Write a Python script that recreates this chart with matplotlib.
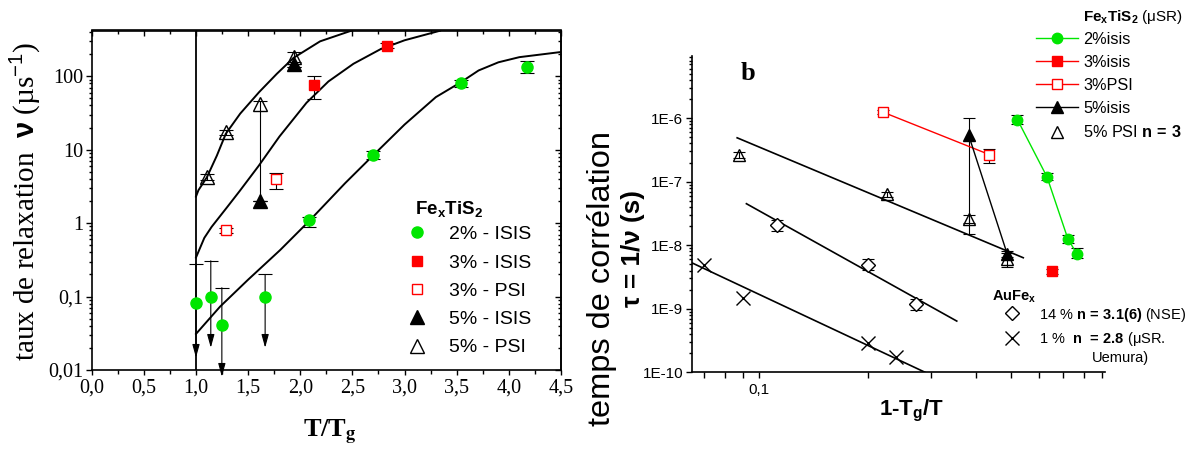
import numpy as np
import matplotlib
matplotlib.use("Agg")
import matplotlib.pyplot as plt
from matplotlib.ticker import MultipleLocator, FixedLocator, FuncFormatter, NullFormatter, LogLocator

plt.rcParams['font.family'] = ['Liberation Sans', 'DejaVu Sans']
plt.rcParams['mathtext.fontset'] = 'custom'
plt.rcParams['mathtext.rm'] = 'Liberation Sans'
plt.rcParams['mathtext.bf'] = 'Liberation Sans:bold'
plt.rcParams['mathtext.it'] = 'Liberation Sans:italic'

GREEN = '#00e600'
RED = '#ff0000'
SERIF = 'Liberation Serif'

# ---- panel a : relaxation rate nu vs T/Tg ----
# 2% ISIS, measured points
t2 = [2.08, 2.70, 3.54, 4.17]
nu2 = [1.09, 8.4, 81, 135]
nu2_lo = [0.89, 7.5, 72, 110]
nu2_hi = [1.2, 9.5, 90, 160]
# 2% ISIS, upper limits (point, cap of the bar, tip of the arrow)
t2_lim = [1.0, 1.142, 1.248, 1.663]
nu2_lim = [0.081, 0.1, 0.041, 0.1]
nu2_cap = [0.28, 0.307, 0.132, 0.2]
nu2_tip = [0.0147, 0.0201, 0.0081, 0.0201]

t3_isis = [2.127, 2.83]
nu3_isis = [75, 261]
nu3_isis_lo = [49, 240]
nu3_isis_hi = [100, 285]

t3_psi = [1.283, 1.769]
nu3_psi = [0.8, 4.0]
nu3_psi_lo = [0.74, 2.94]
nu3_psi_hi = [0.87, 4.8]

t5_isis = [1.61, 1.936]
nu5_isis = [2.0, 147]
nu5_isis_lo = [2.0, 135]
nu5_isis_hi = [2.0, 158]

t5_psi = [1.104, 1.286, 1.61, 1.936]
nu5_psi = [4.25, 17.3, 42, 185]
nu5_psi_lo = [3.9, 15.8, 2.0, 133]
nu5_psi_hi = [4.6, 18.8, 46, 212]

# fitted curves
fit5_t = [1.0, 1.023, 1.104, 1.2, 1.286, 1.424, 1.606, 1.775, 1.935, 2.19, 2.495]
fit5_nu = [2.3, 2.8, 4.2, 8.3, 16.5, 31, 61, 108, 178, 299, 420]
fit3_t = [1.0, 1.08, 1.15, 1.3, 1.42, 1.6, 1.8, 2.06, 2.27, 2.51, 2.77, 3.0, 3.34]
fit3_nu = [0.34, 0.63, 0.89, 1.66, 2.75, 6.0, 15.1, 43.6, 85, 148, 234, 309, 417]
fit2_t = [1.0, 1.231, 1.5, 1.807, 2.08, 2.43, 2.7, 3.0, 3.3, 3.54, 3.71, 3.9, 4.1, 4.5]
fit2_nu = [0.031, 0.073, 0.17, 0.43, 1.05, 3.5, 8.4, 22, 52, 83, 120, 155, 182, 214]
t_glass = 1.0

# ---- panel b : correlation time tau vs 1-Tg/T ----
r2_x = [0.522, 0.631, 0.721, 0.764]
r2_tau = [9.5e-7, 1.19e-7, 1.27e-8, 7.3e-9]
r2_lo = [8.0e-7, 1.05e-7, 1.1e-8, 6.2e-9]
r2_hi = [1.1e-6, 1.35e-7, 1.45e-8, 8.9e-9]

r3i_x = [0.651]
r3i_tau = [3.9e-9]
r3i_lo = [3.5e-9]
r3i_hi = [4.3e-9]

r3p_x = [0.22, 0.436]
r3p_tau = [1.25e-6, 2.67e-7]
r3p_lo = [1.15e-6, 2.0e-7]
r3p_hi = [1.35e-6, 3.3e-7]

r5i_x = [0.382, 0.489]
r5i_tau = [5.4e-7, 7.3e-9]
r5i_lo = [1.5e-8, 6.6e-9]
r5i_hi = [1.0e-6, 8.0e-9]

r5p_x = [0.088, 0.226, 0.382, 0.487]
r5p_tau = [2.67e-7, 6.3e-8, 2.6e-8, 6.1e-9]
r5p_lo = [2.4e-7, 5.8e-8, 2.2e-8, 4.5e-9]
r5p_hi = [2.9e-7, 6.9e-8, 3.0e-8, 7.5e-9]

nse_x = [0.112, 0.201, 0.273]
nse_tau = [2.06e-8, 4.9e-9, 1.17e-9]
nse_lo = [1.7e-8, 4.1e-9, 0.97e-9]
nse_hi = [2.5e-8, 6.0e-9, 1.4e-9]

uem_x = [0.07, 0.0898, 0.2, 0.24]
uem_tau = [4.9e-9, 1.47e-9, 2.9e-10, 1.77e-10]

fitp5_x = [0.0867, 0.542]
fitp5_tau = [4.9e-7, 6.35e-9]
fitnse_x = [0.092, 0.354]
fitnse_tau = [4.5e-8, 6.4e-10]
fituem_x = [0.0648, 0.289]
fituem_tau = [5.3e-9, 1.0e-10]

W, H = 1187, 453


def fx(px):
    return px / W


def fy(py):
    return 1 - py / H


def err(v, lo, hi):
    v, lo, hi = np.array(v), np.array(lo), np.array(hi)
    return [v - lo, hi - v]


fig = plt.figure(figsize=(W / 100, H / 100), dpi=100)

# ================= panel a =================
ax1 = fig.add_axes([fx(91.7), fy(370), (561 - 91.7) / W, (370 - 30.5) / H])
ax1.set_yscale('log')
ax1.set_xlim(0, 4.5)
ax1.set_ylim(0.01, 420)

ax1.axvline(t_glass, color='k', lw=1.3, zorder=1)
for ft, fn in [(fit5_t, fit5_nu), (fit3_t, fit3_nu), (fit2_t, fit2_nu)]:
    ax1.plot(ft, fn, color='k', lw=1.4, zorder=2)

ebk = dict(fmt='none', ecolor='k', elinewidth=0.8, capsize=5, capthick=0.8, zorder=3)
ax1.errorbar(t2, nu2, yerr=err(nu2, nu2_lo, nu2_hi), **ebk)
ax1.errorbar(t3_isis, nu3_isis, yerr=err(nu3_isis, nu3_isis_lo, nu3_isis_hi), **ebk)
ax1.errorbar(t3_psi, nu3_psi, yerr=err(nu3_psi, nu3_psi_lo, nu3_psi_hi), **ebk)
ax1.errorbar(t5_isis, nu5_isis, yerr=err(nu5_isis, nu5_isis_lo, nu5_isis_hi), **ebk)
ax1.errorbar(t5_psi, nu5_psi, yerr=err(nu5_psi, nu5_psi_lo, nu5_psi_hi), **ebk)

# upper limits: cap + arrow pointing down
ax1.plot(t2_lim, nu2_cap, ls='none', marker='_', ms=10, mew=0.8, color='k', zorder=3)
for x, c, tip in zip(t2_lim, nu2_cap, nu2_tip):
    ax1.annotate('', xy=(x, tip), xytext=(x, c),
                 arrowprops=dict(arrowstyle='-|>,head_length=0.8,head_width=0.22',
                                 color='k', lw=0.8, shrinkA=0, shrinkB=0),
                 annotation_clip=False, zorder=3)

h2, = ax1.plot(t2_lim + t2, nu2_lim + nu2, ls='none', marker='o', ms=8,
               mfc=GREEN, mec=GREEN, zorder=4)
h3i, = ax1.plot(t3_isis, nu3_isis, ls='none', marker='s', ms=7.5, mfc=RED, mec=RED, zorder=4)
h3p, = ax1.plot(t3_psi, nu3_psi, ls='none', marker='s', ms=7.5, mfc='white', mec=RED,
                mew=1.0, zorder=4)
h5i, = ax1.plot(t5_isis, nu5_isis, ls='none', marker='^', ms=10, mfc='k', mec='k', zorder=4)
h5p, = ax1.plot(t5_psi, nu5_psi, ls='none', marker='^', ms=10, mfc='none', mec='k',
                mew=1.0, zorder=5)

ax1.xaxis.set_major_locator(MultipleLocator(0.5))
ax1.xaxis.set_minor_locator(MultipleLocator(0.25))
ax1.xaxis.set_major_formatter(FuncFormatter(lambda v, p: ('%.1f' % v).replace('.', ',')))
ax1.yaxis.set_major_formatter(FuncFormatter(lambda v, p: ('%g' % v).replace('.', ',')))
ax1.yaxis.set_minor_formatter(NullFormatter())
ax1.tick_params(which='both', direction='out', labelfontfamily=SERIF, labelsize=14.5,
                width=1.0, pad=2.5)
ax1.tick_params(axis='x', which='major', length=3.5)
ax1.tick_params(axis='x', which='minor', length=3)
ax1.tick_params(axis='y', which='major', length=4.5, pad=1.5)
ax1.tick_params(axis='y', which='minor', length=2.2)
for s in ax1.spines.values():
    s.set_linewidth(1.2)

# mirrored ticks on top and right, pointing inwards
secx = ax1.secondary_xaxis('top')
secx.xaxis.set_major_locator(MultipleLocator(0.5))
secx.xaxis.set_minor_locator(MultipleLocator(0.25))
secx.tick_params(which='both', direction='in', labeltop=False, width=1.0)
secx.tick_params(which='major', length=4)
secx.tick_params(which='minor', length=3)
secx.spines['top'].set_linewidth(1.2)
secy = ax1.secondary_yaxis('right')
secy.tick_params(which='both', direction='in', labelright=False, width=1.0)
secy.tick_params(which='major', length=4.5)
secy.tick_params(which='minor', length=2.2)
secy.spines['right'].set_linewidth(1.2)

fig.text(fx(25), fy(201), r'taux de relaxation  $\mathbf{\nu}$ (µs$^{-1}$)', rotation=90,
         ha='center', va='center', fontfamily=SERIF, fontsize=21)
fig.text(fx(330), fy(437), r'T/T$_\mathbf{g}$', ha='center', va='baseline',
         fontfamily=SERIF, fontweight='bold', fontsize=19, math_fontfamily='stix')

leg1 = ax1.legend([h2, h3i, h3p, h5i, h5p],
                  ['2% - ISIS', '3% - ISIS', '3% - PSI', '5% - ISIS', '5% - PSI'],
                  loc='upper left', bbox_to_anchor=(fx(407.3), fy(225.6)),
                  bbox_transform=fig.transFigure, frameon=False, fontsize=14,
                  handlelength=1.0, handletextpad=1.15, labelspacing=0.55,
                  borderpad=0, borderaxespad=0, numpoints=1)
fig.text(fx(415), fy(214), r'$\mathbf{Fe_xTiS_2}$', ha='left', va='baseline', fontsize=13.5)

# ================= panel b =================
ax2 = fig.add_axes([fx(691.7), fy(372.3), (1105 - 691.7) / W, (372.3 - 56) / H])
ax2.set_xscale('log')
ax2.set_yscale('log')
ax2.set_xlim(0.0648, 0.915)
ax2.set_ylim(1e-10, 9.5e-6)
ax2.spines['top'].set_visible(False)
ax2.spines['right'].set_visible(False)
for s in ['left', 'bottom']:
    ax2.spines[s].set_linewidth(1.2)

for fxs, fts in [(fitp5_x, fitp5_tau), (fitnse_x, fitnse_tau), (fituem_x, fituem_tau)]:
    ax2.plot(fxs, fts, color='k', lw=1.2, zorder=2)

ebr = dict(fmt='none', ecolor='k', elinewidth=0.8, capsize=4.5, capthick=0.8, zorder=3)
ax2.errorbar(r2_x, r2_tau, yerr=err(r2_tau, r2_lo, r2_hi), **ebr)
ax2.errorbar(r3i_x, r3i_tau, yerr=err(r3i_tau, r3i_lo, r3i_hi), **ebr)
ax2.errorbar(r3p_x, r3p_tau, yerr=err(r3p_tau, r3p_lo, r3p_hi), **ebr)
ax2.errorbar(r5i_x, r5i_tau, yerr=err(r5i_tau, r5i_lo, r5i_hi), **ebr)
ax2.errorbar(r5p_x, r5p_tau, yerr=err(r5p_tau, r5p_lo, r5p_hi), **ebr)
ax2.errorbar(nse_x, nse_tau, yerr=err(nse_tau, nse_lo, nse_hi), **ebr)

g2, = ax2.plot(r2_x, r2_tau, '-', color=GREEN, lw=1.0, marker='o', ms=7.5,
               mfc=GREEN, mec=GREEN, zorder=4)
g3i, = ax2.plot(r3i_x, r3i_tau, '-', color=RED, lw=1.0, marker='s', ms=6.5,
                mfc=RED, mec=RED, zorder=4)
g3p, = ax2.plot(r3p_x, r3p_tau, '-', color=RED, lw=1.0, marker='s', ms=7,
                mfc='white', mec=RED, mew=1.0, zorder=4)
g5i, = ax2.plot(r5i_x, r5i_tau, '-', color='k', lw=1.0, marker='^', ms=8.5,
                mfc='k', mec='k', zorder=4)
g5p, = ax2.plot(r5p_x, r5p_tau, ls='none', marker='^', ms=8.5, mfc='none', mec='k',
                mew=1.0, zorder=5)
gn, = ax2.plot(nse_x, nse_tau, ls='none', marker='D', ms=7, mfc='white', mec='k',
               mew=1.0, zorder=5)
gu, = ax2.plot(uem_x, uem_tau, ls='none', marker='x', ms=10, mec='k', mew=1.0, zorder=5)

ax2.yaxis.set_major_locator(LogLocator(base=10))
ax2.yaxis.set_minor_locator(LogLocator(base=10, subs=np.arange(2, 10)))
ax2.yaxis.set_major_formatter(FuncFormatter(lambda v, p: '1E%d' % round(np.log10(v))))
ax2.yaxis.set_minor_formatter(NullFormatter())
ax2.xaxis.set_major_locator(FixedLocator([0.1]))
ax2.xaxis.set_minor_locator(FixedLocator([0.07, 0.08, 0.09, 0.2, 0.3, 0.4, 0.5, 0.6,
                                          0.7, 0.8, 0.9]))
ax2.xaxis.set_major_formatter(FuncFormatter(lambda v, p: ('%g' % v).replace('.', ',')))
ax2.xaxis.set_minor_formatter(NullFormatter())
ax2.tick_params(which='both', direction='out', labelsize=11, width=1.0)
ax2.tick_params(axis='x', which='both', length=4.5, pad=3.5)
ax2.tick_params(axis='y', which='major', length=4, pad=2)
ax2.tick_params(axis='y', which='minor', length=2)

fig.text(fx(748), fy(80), 'b', ha='center', va='baseline', fontfamily=SERIF,
         fontweight='bold', fontsize=19)
fig.text(fx(601.7), fy(279), 'temps de corrélation', rotation=90, ha='center',
         va='center', fontsize=23.4)
fig.text(fx(633), fy(249), 'τ = 1/ν (s)', rotation=90, ha='center', va='center',
         fontsize=18.8, fontweight='bold')
fig.text(fx(911.5), fy(415), r'1-T$_\mathbf{g}$/T', ha='center', va='baseline',
         fontsize=16, fontweight='bold')

leg2 = ax2.legend([g2, g3i, g3p, g5i, g5p],
                  ['2%isis', '3%isis', '3%PSI', '5%isis', r'5% PSI $\mathbf{n\,=\,3}$'],
                  loc='upper left', bbox_to_anchor=(fx(1036), fy(31.7)),
                  bbox_transform=fig.transFigure, frameon=False, fontsize=11.7,
                  handlelength=2.58, handletextpad=0.31, labelspacing=0.5,
                  borderpad=0, borderaxespad=0, numpoints=1)
fig.text(fx(1083), fy(20.7), r'$\mathbf{Fe_xTiS_2}$ (μSR)', ha='left', va='baseline',
         fontsize=11)
ax2.add_artist(leg2)

leg3 = ax2.legend([gn, gu],
                  [r'14 % $\mathbf{n\,=\,3.1(6)}$ (NSE)', r'1 %  $\mathbf{n\ \,=\,2.8}$ (μSR.'],
                  loc='upper left', bbox_to_anchor=(fx(1004.8), fy(305.5)),
                  bbox_transform=fig.transFigure, frameon=False, fontsize=10.5,
                  handlelength=1.05, handletextpad=1.3, labelspacing=0.45,
                  borderpad=0, borderaxespad=0, numpoints=1)
fig.text(fx(992), fy(300.7), r'$\mathbf{AuFe_x}$', ha='left', va='baseline', fontsize=10.5)
ax2.annotate('Uemura)', xy=(0, 0), xycoords=leg3.get_texts()[1], xytext=(38, -2),
             textcoords='offset points', ha='left', va='top', fontsize=10.5, zorder=10)

fig.savefig('out.png', dpi=100)
